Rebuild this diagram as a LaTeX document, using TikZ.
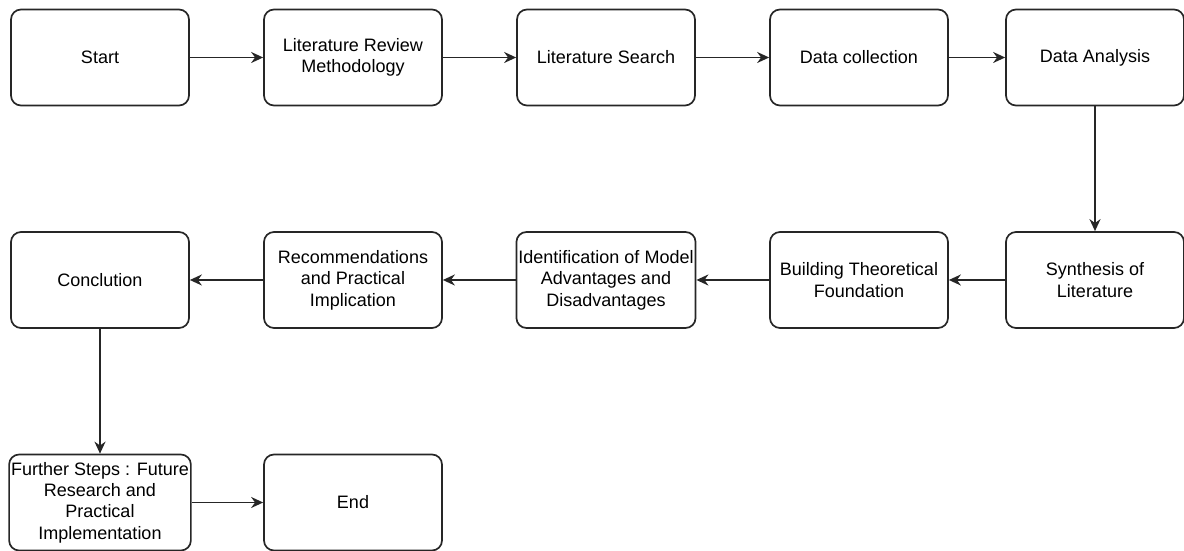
\documentclass[tikz,border=0pt]{standalone}
\usepackage{fontspec}
\setmainfont{Liberation Sans}
\usetikzlibrary{arrows.meta}
\begin{document}
\begin{tikzpicture}[x=0.5pt, y=0.5pt,
        stepbox/.style={draw=black!85, line width=0.85pt, rounded corners=5pt,
            minimum width=89pt, minimum height=48pt, inner sep=1pt,
            align=center, font=\fontsize{9}{10.7}\selectfont},
        flow/.style={draw=black!85, line width=0.9pt, -{Stealth[length=6pt, width=5.5pt]}}]
        \useasboundingbox (0,0) rectangle (1184,551);
        % first row
        \node[stepbox] (start) at (100,493.5) {Start};
        \node[stepbox] (method) at (353,493.5) {Literature Review\\Methodology};
        \node[stepbox] (search) at (606,493.5) {Literature Search};
        \node[stepbox] (collect) at (859,493.5) {Data collection};
        \node[stepbox] (analysis) at (1095,493.5) {Data Analysis};
        % second row
        \node[stepbox] (synth) at (1095,271) {Synthesis of\\Literature};
        \node[stepbox] (theory) at (859,271) {Building Theoretical\\Foundation};
        \node[stepbox] (ident) at (606,271) {Identification of Model\\Advantages and\\Disadvantages};
        \node[stepbox] (recom) at (353,271) {Recommendations\\and Practical\\Implication};
        \node[stepbox] (concl) at (100,271) {Conclution};
        % third row
        \node[stepbox] (further) at (100,48.5) {Further Steps : Future\\Research and\\Practical\\Implementation};
        \node[stepbox] (end) at (353,48.5) {End};
        \draw[flow] (start) -- (method);
        \draw[flow] (method) -- (search);
        \draw[flow] (search) -- (collect);
        \draw[flow] (collect) -- (analysis);
        \draw[flow] (analysis) -- (synth);
        \draw[flow] (synth) -- (theory);
        \draw[flow] (theory) -- (ident);
        \draw[flow] (ident) -- (recom);
        \draw[flow] (recom) -- (concl);
        \draw[flow] (concl) -- (further);
        \draw[flow] (further) -- (end);
    \end{tikzpicture}
\end{document}
